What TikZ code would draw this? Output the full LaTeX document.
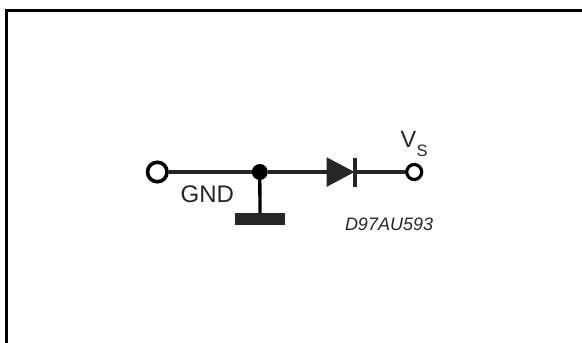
\documentclass[tikz,border=0pt]{standalone}
\usepackage{fontspec}
\setmainfont{Liberation Sans}
\tikzset{
  wire/.style={line width=3.4pt,draw=black!85},
  lbl/.style={inner sep=0pt,anchor=base west},
}
\begin{document}
\begin{tikzpicture}[x=1pt,y=-1pt]
\useasboundingbox (0,0) rectangle (582,343);
\draw[line width=3pt] (6.5,343) -- (6.5,10.5) -- (582,10.5);
\coordinate (dl) at (327,172);
\coordinate (dr) at (355,172);
\node[fill=black!85,minimum width=50pt,minimum height=11.5pt,inner sep=0pt] (g) at (260,219) {};
\node[circle,draw=black,line width=3.6pt,fill=white,minimum size=19.5pt,inner sep=0pt] (a) at (157.3,172) {};
\node[circle,fill=black,minimum size=16pt,inner sep=0pt] (j) at (259.8,172) {};
\node[circle,draw=black,line width=3.2pt,fill=white,minimum size=15pt,inner sep=0pt] (b) at (414.2,172) {};
\draw[wire] (a) -- (j);
\draw[wire] (j) -- (dl);
\draw[wire] (dr) -- (b);
\draw[line width=3.3pt,black] (j) -- (g);
\fill[black!85] (326.7,157.3) -- (354.5,172) -- (326.7,186.8) -- cycle;
\draw[line width=3.2pt,black!85] (355,158) -- (355,187);
\node[lbl,font=\fontsize{24}{24}\selectfont,black!85] (gnd) at (180.5,202) {GND};
\node[lbl,font=\fontsize{23.5}{24}\selectfont,black!85] (v) at (400.5,147.3) {V};
\node[lbl,font=\fontsize{16.5}{17}\selectfont,black!85] (s) at (416.5,156) {S};
\node[lbl,font=\itshape\fontsize{18}{18}\selectfont,black!85] (c) at (344.8,230.7) {D97AU593};
\end{tikzpicture}
\end{document}
